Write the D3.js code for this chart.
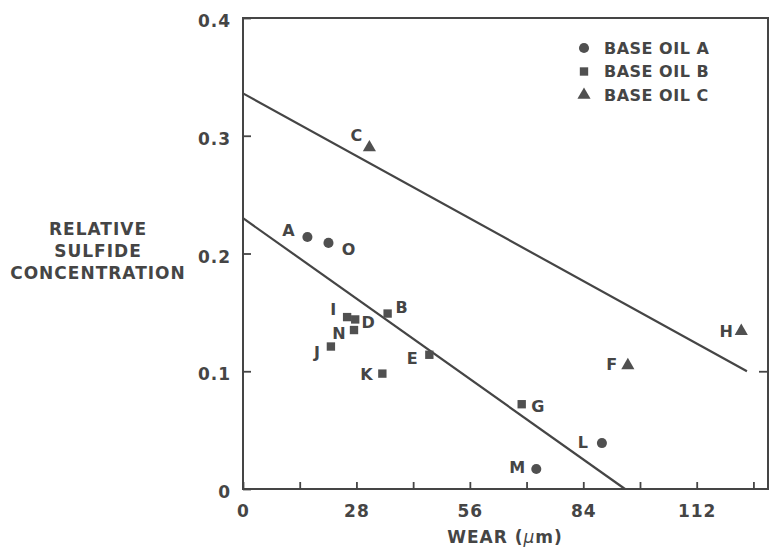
<!DOCTYPE html>
<html>
<head>
<meta charset="utf-8">
<script src="https://cdn.jsdelivr.net/npm/d3@7"></script>
<style>
  html, body { margin: 0; padding: 0; background: #fff; }
  svg { display: block; }
  text { font-family: "DejaVu Sans", sans-serif; font-weight: bold; fill: #454545; }
</style>
</head>
<body>
<svg id="chart" width="769" height="550"></svg>
<script>
// ---- data ----
const pointNames  = ["A", "O", "C", "I", "D", "N", "J", "B", "E", "K", "G", "L", "M", "F", "H"];
const pointOil    = ["A", "A", "C", "B", "B", "B", "B", "B", "B", "B", "B", "A", "A", "C", "C"];
const pointWear   = [15.9, 21.1, 31.2, 25.7, 27.7, 27.4, 21.7, 35.7, 46.0, 34.4, 68.8, 88.6, 72.4, 95.0, 123.0];
const pointSulf   = [0.214, 0.209, 0.290, 0.146, 0.144, 0.135, 0.121, 0.149, 0.114, 0.098, 0.072, 0.039, 0.017, 0.105, 0.134];

const legendLabels = ["BASE OIL A", "BASE OIL B", "BASE OIL C"];
const legendOils   = ["A", "B", "C"];

const lineUpperX = [0, 124.4];
const lineUpperY = [0.336, 0.100];
const lineLowerX = [0, 94.3];
const lineLowerY = [0.230, 0.000];

const xTickLabels = [0, 28, 56, 84, 112];
const xMinorTicks = [14, 42, 70, 98, 126];
const yTickLabels = [0, 0.1, 0.2, 0.3, 0.4];
const yLabelLines = ["RELATIVE", "SULFIDE", "CONCENTRATION"];
const xLabel = "WEAR (";
const xLabelUnit = "\u03BC";
const xLabelRest = "m)";

// label placement (style, not data): offset from marker centre
const labelOffset = {
  A: [-19, -7], O: [20, 6], C: [-13, -12], I: [-14, -8], D: [13, 3], N: [-15, 3],
  J: [-14, 6], B: [14, -6], E: [-17, 3], K: [-16, 1], G: [16, 2], L: [-19, -1],
  M: [-19, -2], F: [-16, -1], H: [-15, 0]
};

// ---- layout ----
const svg = d3.select("#chart");
const pL = 243, pR = 768, pT = 18, pB = 489;
const x = d3.scaleLinear().domain([0, 129.6]).range([pL, pR]);
const y = d3.scaleLinear().domain([0, 0.4]).range([pB, pT]);
const ink = "#454545";

// frame
svg.append("rect").attr("x", pL).attr("y", pT)
  .attr("width", pR - pL).attr("height", pB - pT)
  .attr("fill", "none").attr("stroke", ink).attr("stroke-width", 2);

// bottom axis (ticks inward)
const xAxis = d3.axisBottom(x).tickValues(xTickLabels.concat(xMinorTicks).sort((a, b) => a - b))
  .tickSizeInner(-7).tickSizeOuter(0).tickFormat(d => xTickLabels.includes(d) ? d : "");
const gx = svg.append("g").attr("transform", `translate(0,${pB})`).call(xAxis);
gx.select(".domain").remove();
gx.selectAll("line").attr("stroke", ink).attr("stroke-width", 1.8);
gx.selectAll("text").attr("dy", null).attr("y", 28)
  .style("font-size", "17px").style("letter-spacing", "1px").attr("fill", ink)
  .attr("font-family", null);

// left axis (ticks inward)
const yAxis = d3.axisLeft(y).tickValues(yTickLabels).tickSizeInner(-8).tickSizeOuter(0)
  .tickFormat(d => d === 0 ? "0" : d3.format(".1f")(d));
const gy = svg.append("g").attr("transform", `translate(${pL},0)`).call(yAxis);
gy.select(".domain").remove();
gy.selectAll("line").attr("stroke", ink).attr("stroke-width", 1.8);
gy.selectAll("text").attr("x", -12).attr("dy", "0.5em")
  .style("font-size", "17px").style("letter-spacing", "1px").attr("fill", ink)
  .attr("font-family", null);

// right axis tick at 0.1 (inward)
const yRight = d3.axisRight(y).tickValues([0.1]).tickSizeInner(-9).tickSizeOuter(0).tickFormat("");
const gr = svg.append("g").attr("transform", `translate(${pR},0)`).call(yRight);
gr.select(".domain").remove();
gr.selectAll("line").attr("stroke", ink).attr("stroke-width", 1.8);

// y label
const yl = svg.append("text").attr("text-anchor", "middle")
  .style("font-size", "17px").style("letter-spacing", "1px");
yLabelLines.forEach((t, i) => {
  yl.append("tspan").attr("x", 98).attr("y", 235 + i * 22).text(t);
});

// x label
const xl = svg.append("text").attr("x", 505).attr("y", 543).attr("text-anchor", "middle")
  .style("font-size", "17px").style("letter-spacing", "1px");
xl.append("tspan").text(xLabel);
xl.append("tspan").style("font-style", "italic").style("font-weight", "normal").text(xLabelUnit);
xl.append("tspan").text(xLabelRest);

// fit lines
const line = d3.line().x(d => x(d[0])).y(d => y(d[1]));
[[lineUpperX, lineUpperY], [lineLowerX, lineLowerY]].forEach(([xs, ys]) => {
  svg.append("path").datum(xs.map((v, i) => [v, ys[i]]))
    .attr("d", line).attr("fill", "none").attr("stroke", ink).attr("stroke-width", 2.2);
});

// markers
const symbolFor = { A: d3.symbolCircle, B: d3.symbolSquare, C: d3.symbolTriangle };
const sizeFor = { A: 80, B: 70, C: 75 };
const pts = pointNames.map((n, i) => ({ name: n, oil: pointOil[i], wx: pointWear[i], sy: pointSulf[i] }));

svg.append("g").selectAll("path").data(pts).join("path")
  .attr("transform", d => `translate(${x(d.wx)},${y(d.sy)})`)
  .attr("d", d => d3.symbol().type(symbolFor[d.oil]).size(sizeFor[d.oil])())
  .attr("fill", "#505050");

svg.append("g").selectAll("text").data(pts).join("text")
  .attr("x", d => x(d.wx) + labelOffset[d.name][0])
  .attr("y", d => y(d.sy) + labelOffset[d.name][1])
  .attr("dy", "0.36em").attr("text-anchor", "middle")
  .style("font-size", "16px")
  .text(d => d.name);

// legend
const lg = svg.append("g");
legendLabels.forEach((t, i) => {
  const yy = 48 + i * 23.5;
  lg.append("path").attr("transform", `translate(584,${yy})`)
    .attr("d", d3.symbol().type(symbolFor[legendOils[i]]).size(sizeFor[legendOils[i]])())
    .attr("fill", "#505050");
  lg.append("text").attr("x", 604).attr("y", yy).attr("dy", "0.36em")
    .style("font-size", "16px").style("letter-spacing", "0.5px").text(t);
});
</script>
</body>
</html>
